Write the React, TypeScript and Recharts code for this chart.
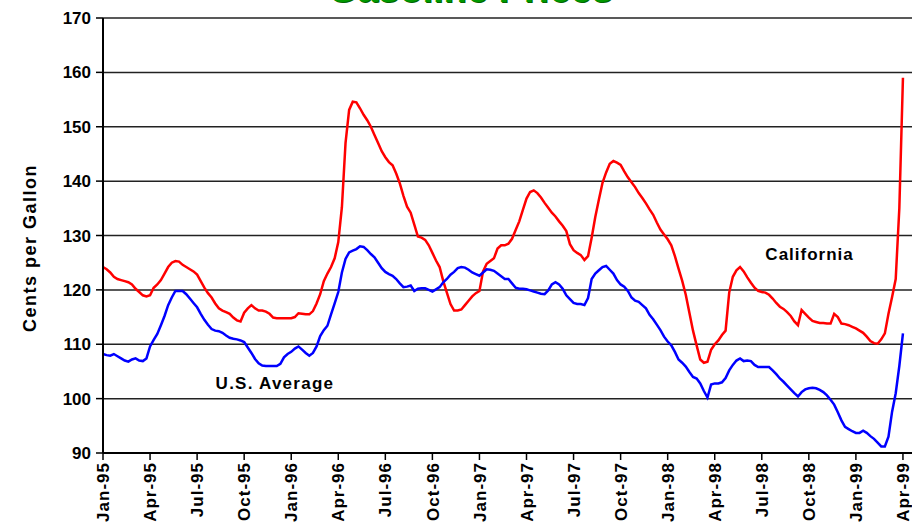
import { LineChart, Line, XAxis, YAxis, CartesianGrid, ReferenceDot } from 'recharts'

// quarter tick labels, one every 13 weeks starting at week 0
const quarterLabels = [
  'Jan-95', 'Apr-95', 'Jul-95', 'Oct-95',
  'Jan-96', 'Apr-96', 'Jul-96', 'Oct-96',
  'Jan-97', 'Apr-97', 'Jul-97', 'Oct-97',
  'Jan-98', 'Apr-98', 'Jul-98', 'Oct-98',
  'Jan-99', 'Apr-99',
]
const quarterWeeks = quarterLabels.map((_, i) => i * 13)

const yTicks = [90, 100, 110, 120, 130, 140, 150, 160, 170]

// weekly retail prices, cents per gallon
const california = [
  124.2, 123.8, 123.2, 122.4, 122, 121.8, 121.6, 121.4, 121, 120.2,
  119.6, 119, 118.8, 119, 120.4, 121, 121.8, 123, 124.2, 125,
  125.3, 125.2, 124.6, 124.2, 123.8, 123.4, 122.8, 121.6, 120.4, 119.4,
  118.6, 117.5, 116.6, 116.2, 115.9, 115.6, 114.9, 114.4, 114.2, 115.8,
  116.6, 117.2, 116.6, 116.2, 116.2, 116, 115.6, 114.9, 114.8, 114.8,
  114.8, 114.8, 114.8, 115, 115.7, 115.6, 115.5, 115.5, 116.1, 117.5,
  119.2, 121.6, 123, 124.2, 125.8, 128.8, 135.2, 147, 153.1, 154.6,
  154.5, 153.4, 152.2, 151.2, 150, 148.5, 147, 145.5, 144.4, 143.5,
  142.9, 141.4, 139.6, 137.3, 135.3, 134.2, 132, 129.8, 129.6, 129.2,
  128.2, 126.8, 125.4, 124.2, 121.6, 119.5, 117.4, 116.2, 116.2, 116.4,
  117.2, 118, 118.8, 119.4, 119.8, 123.4, 124.8, 125.3, 125.8, 127.6,
  128.2, 128.2, 128.5, 129.4, 131, 132.6, 134.7, 136.8, 138, 138.3,
  137.8, 137, 136, 135.1, 134.2, 133.5, 132.6, 131.8, 130.8, 128.4,
  127.3, 126.8, 126.4, 125.5, 126.2, 129.6, 133.4, 136.6, 139.7, 141.6,
  143.2, 143.7, 143.4, 143, 141.8, 140.7, 139.8, 138.9, 137.8, 136.9,
  135.9, 134.8, 133.8, 132.4, 131.1, 130.2, 129.3, 128.2, 126.2, 123.9,
  121.7, 119.1, 115.8, 112.5, 109.8, 107.2, 106.6, 106.8, 109, 110,
  110.7, 111.7, 112.5, 119.5, 122.4, 123.6, 124.2, 123.4, 122.3, 121.3,
  120.4, 119.8, 119.6, 119.5, 119.1, 118.4, 117.6, 116.9, 116.5, 115.9,
  115.2, 114.2, 113.5, 116.3, 115.6, 114.9, 114.3, 114.1, 113.9, 113.9,
  113.8, 113.8, 115.6, 115, 113.8, 113.7, 113.5, 113.2, 112.9, 112.5,
  112.1, 111.4, 110.6, 110.2, 110.1, 110.9, 112, 115.6, 118.7, 122,
  135, 159,
]

const usAverage = [
  108.2, 108, 107.9, 108.2, 107.8, 107.4, 107, 106.8, 107.2, 107.4,
  107, 106.9, 107.4, 109.6, 110.8, 111.9, 113.5, 115.2, 117.2, 118.6,
  119.8, 119.8, 119.8, 119.2, 118.4, 117.6, 116.8, 115.6, 114.5, 113.6,
  112.8, 112.5, 112.4, 112.1, 111.6, 111.2, 111, 110.9, 110.7, 110.4,
  109.4, 108.4, 107.3, 106.5, 106.1, 106, 106, 106, 106, 106.4,
  107.6, 108.2, 108.6, 109.2, 109.6, 109, 108.4, 107.9, 108.4, 109.6,
  111.5, 112.6, 113.4, 115.5, 117.5, 119.6, 123.2, 125.7, 126.9, 127.2,
  127.5, 128, 127.9, 127.3, 126.6, 126, 125, 124, 123.3, 122.9,
  122.6, 122, 121.2, 120.5, 120.6, 120.8, 119.8, 120.2, 120.3, 120.3,
  120, 119.7, 120.1, 120.5, 121.4, 122, 122.8, 123.3, 124, 124.2,
  124.1, 123.7, 123.2, 122.9, 122.6, 123.2, 123.8, 123.7, 123.5, 123,
  122.5, 122, 122, 121.2, 120.4, 120.2, 120.2, 120.1, 119.9, 119.7,
  119.5, 119.3, 119.2, 119.9, 121, 121.4, 121, 120.2, 119, 118.3,
  117.6, 117.4, 117.4, 117.2, 118.5, 122, 123, 123.6, 124.2, 124.4,
  123.7, 123, 121.8, 121, 120.6, 119.8, 118.6, 118, 117.8, 117.2,
  116.6, 115.4, 114.6, 113.6, 112.6, 111.4, 110.5, 109.8, 108.6, 107.2,
  106.6, 105.9, 104.9, 104, 103.7, 102.8, 101.4, 100.2, 102.6, 102.8,
  102.8, 103, 103.8, 105.2, 106.2, 107, 107.4, 106.9, 107, 106.9,
  106.2, 105.8, 105.8, 105.8, 105.8, 105.2, 104.5, 103.7, 103.1, 102.4,
  101.7, 101, 100.4, 101.2, 101.7, 101.9, 102, 101.9, 101.6, 101.2,
  100.6, 99.8, 98.9, 97.5, 96, 94.8, 94.4, 94, 93.7, 93.7,
  94.1, 93.7, 93.1, 92.6, 91.9, 91.2, 91.2, 93, 97.6, 101,
  106, 112,
]

const data = california.map((v, i) => ({ week: i, california: v, us: usAverage[i] }))

const font = '"Liberation Sans", Arial, sans-serif'

function QuarterTick({ x, y, payload }: any) {
  const label = quarterLabels[Math.round(payload.value / 13)]
  return (
    <text
      x={x}
      y={y}
      dy="0.36em"
      transform={`rotate(-90 ${x} ${y})`}
      textAnchor="end"
      fontSize={17}
      fontWeight="bold"
      letterSpacing={1}
      fontFamily={font}
      fill="#000"
    >
      {label}
    </text>
  )
}

const seriesLabel = { fontSize: 17, fontWeight: 'bold', fill: '#000', fontFamily: font }

export default function App() {
  return (
    <div style={{ position: 'absolute', left: 0, top: 0, width: 912, height: 523, overflow: 'hidden', background: '#fff' }}>
      {/* title sits mostly above the page edge, as in the source */}
      <div
        style={{
          position: 'absolute', left: 0, top: -30, width: 940, textAlign: 'center',
          fontFamily: font, fontWeight: 'bold', fontSize: 38, lineHeight: '38px',
          color: '#009900', textShadow: '1px 1px 0 #006600',
        }}
      >
        Gasoline Prices
      </div>
      <div
        style={{
          position: 'absolute', left: 30, top: 248, transform: 'translate(-50%, -50%) rotate(-90deg)',
          whiteSpace: 'nowrap', fontFamily: font, fontWeight: 'bold', fontSize: 18, letterSpacing: 1.5, color: '#000',
        }}
      >
        Cents per Gallon
      </div>
      <LineChart width={912} height={523} data={data} margin={{ top: 18, right: 0, bottom: 0, left: 0 }}>
        <CartesianGrid vertical={false} stroke="#222" strokeWidth={1.5} />
        <XAxis
          dataKey="week"
          type="number"
          domain={[0, 223.5]}
          ticks={quarterWeeks}
          interval={0}
          height={70}
          tickSize={7}
          tickMargin={2}
          tick={<QuarterTick />}
          axisLine={{ stroke: '#000', strokeWidth: 2 }}
          tickLine={{ stroke: '#000', strokeWidth: 1.5 }}
        />
        <YAxis
          type="number"
          domain={[90, 170]}
          ticks={yTicks}
          interval={0}
          width={103}
          tickSize={7}
          tickMargin={5}
          tick={{ fontSize: 17, fontWeight: 'bold', fill: '#000', fontFamily: font }}
          axisLine={{ stroke: '#000', strokeWidth: 2 }}
          tickLine={{ stroke: '#000', strokeWidth: 1.5 }}
        />
        <Line type="linear" dataKey="california" stroke="#ff0000" strokeWidth={2.5} dot={false} isAnimationActive={false} />
        <Line type="linear" dataKey="us" stroke="#0000ff" strokeWidth={2.5} dot={false} isAnimationActive={false} />
        <ReferenceDot
          x={195.2}
          y={126.6}
          r={1}
          fill="none"
          stroke="none"
          label={{ value: 'California', position: 'center', letterSpacing: 1, ...seriesLabel }}
        />
        <ReferenceDot
          x={47.5}
          y={102.9}
          r={1}
          fill="none"
          stroke="none"
          label={{ value: 'U.S. Average', position: 'center', letterSpacing: 1.25, ...seriesLabel }}
        />
      </LineChart>
    </div>
  )
}
